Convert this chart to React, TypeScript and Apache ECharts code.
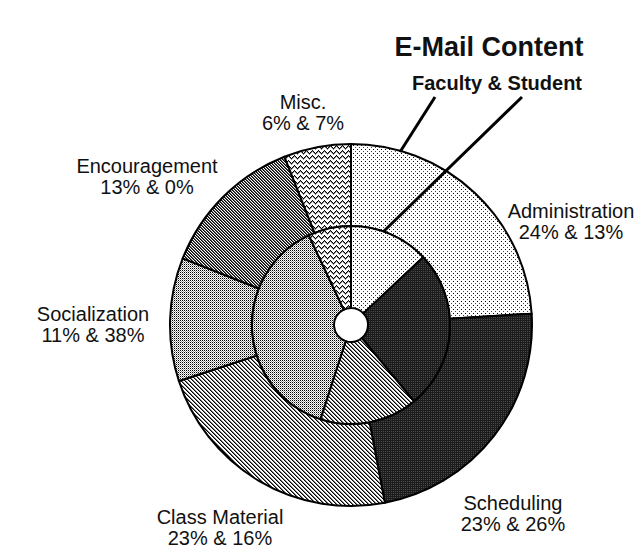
import React, { useEffect, useRef } from "react";
import * as echarts from "echarts";

const categories = ["Administration", "Scheduling", "Class Material", "Socialization", "Encouragement", "Misc."];
const facultyPct = [24, 23, 23, 11, 13, 6];
const studentPct = [13, 26, 16, 38, 0, 7];
const patternKinds = ["dots", "dark", "hatch", "fineDots", "darkHatch", "wave"];
const titleText = "E-Mail Content";
const subtitleText = "Faculty & Student";

// layout (positions of label centres, px)
const labelPositions: [number, number][] = [
  [571, 221],
  [513, 513],
  [220, 527],
  [93, 324],
  [147, 176],
  [303, 112],
];

const FONT = "'Liberation Sans', Arial, Helvetica, sans-serif";

function makePattern(kind: string) {
  const c = document.createElement("canvas");
  let w = 4;
  let h = 4;
  if (kind === "dark" || kind === "fineDots") { w = 2; h = 2; }
  if (kind === "darkHatch") { w = 3; h = 3; }
  if (kind === "wave") { w = 6; h = 5; }
  c.width = w;
  c.height = h;
  const ctx = c.getContext("2d")!;
  ctx.fillStyle = "#ffffff";
  ctx.fillRect(0, 0, w, h);
  ctx.fillStyle = "#000000";
  if (kind === "dots") {
    ctx.fillRect(1, 1, 1, 1);
    ctx.fillStyle = "#444";
    ctx.fillRect(3, 3, 1, 1);
  } else if (kind === "dark") {
    ctx.fillStyle = "#1c1c1c";
    ctx.fillRect(0, 0, 2, 2);
    ctx.fillStyle = "#4a4a4a";
    ctx.fillRect(1, 1, 1, 1);
  } else if (kind === "hatch") {
    for (let i = 0; i < 4; i++) {
      ctx.fillRect(i, i, 1, 1);
      ctx.fillStyle = "#777";
      ctx.fillRect((i + 1) % 4, i, 1, 1);
      ctx.fillStyle = "#000";
    }
  } else if (kind === "fineDots") {
    ctx.fillRect(0, 0, 1, 1);
    ctx.fillStyle = "#9a9a9a";
    ctx.fillRect(1, 1, 1, 1);
  } else if (kind === "darkHatch") {
    for (let i = 0; i < 3; i++) {
      ctx.fillStyle = "#000";
      ctx.fillRect(i, i, 1, 1);
      ctx.fillStyle = "#5a5a5a";
      ctx.fillRect((i + 1) % 3, i, 1, 1);
    }
  } else if (kind === "wave") {
    const ys = [0, 1, 2, 3, 2, 1];
    for (let x = 0; x < 6; x++) {
      ctx.fillRect(x, ys[x], 1, 1);
    }
    ctx.fillStyle = "#888";
    for (let x = 0; x < 6; x++) {
      ctx.fillRect(x, ys[x] + 1, 1, 1);
    }
  }
  return { image: c, repeat: "repeat", imageWidth: w, imageHeight: h } as any;
}

export default function App() {
  const ref = useRef<HTMLDivElement>(null);
  useEffect(() => {
    document.body.style.margin = "0";
    const chart = echarts.init(ref.current!, null, { renderer: "svg" });
    const patterns = patternKinds.map((k) => makePattern(k));
    const outerData = categories.map((name, i) => ({
      name,
      value: facultyPct[i],
      itemStyle: { color: patterns[i] },
    }));
    const innerData = categories.map((name, i) => ({
      name,
      value: studentPct[i],
      itemStyle: { color: patterns[i] },
    }));
    chart.setOption({
      animation: false,
      backgroundColor: "#ffffff",
      graphic: [
        {
          type: "text",
          x: 489,
          y: 47,
          style: {
            text: titleText,
            font: `bold 27px ${FONT}`,
            fill: "#111",
            align: "center",
            verticalAlign: "middle",
          },
        },
        {
          type: "text",
          x: 497,
          y: 83,
          style: {
            text: subtitleText,
            font: `bold 20px ${FONT}`,
            fill: "#111",
            align: "center",
            verticalAlign: "middle",
          },
        },
        {
          type: "line",
          z: 10,
          shape: { x1: 435, y1: 97, x2: 400, y2: 152 },
          style: { stroke: "#000", lineWidth: 3 },
        },
        {
          type: "line",
          z: 10,
          shape: { x1: 522, y1: 97, x2: 383, y2: 232 },
          style: { stroke: "#000", lineWidth: 3 },
        },
      ],
      series: [
        {
          name: "Faculty",
          type: "pie",
          center: [351, 325],
          radius: [99, 181],
          startAngle: 90,
          clockwise: true,
          avoidLabelOverlap: false,
          itemStyle: { borderColor: "#000", borderWidth: 2 },
          emphasis: { disabled: true },
          label: {
            show: true,
            position: "outside",
            formatter: (p: any) =>
              `${p.name}\n${facultyPct[p.dataIndex]}% & ${studentPct[p.dataIndex]}%`,
            color: "#111",
            fontSize: 20,
            lineHeight: 21,
            fontFamily: FONT,
            align: "center",
          },
          labelLine: { show: false },
          labelLayout: (params: any) => {
            const p = labelPositions[params.dataIndex];
            return { x: p[0], y: p[1], align: "center", verticalAlign: "middle" };
          },
          data: outerData,
        },
        {
          name: "Student",
          type: "pie",
          center: [351, 325],
          radius: [17, 99],
          startAngle: 90,
          clockwise: true,
          itemStyle: { borderColor: "#000", borderWidth: 2 },
          emphasis: { disabled: true },
          label: { show: false },
          labelLine: { show: false },
          data: innerData,
        },
      ],
    });
    return () => chart.dispose();
  }, []);
  return <div ref={ref} style={{ width: 644, height: 560 }} />;
}
